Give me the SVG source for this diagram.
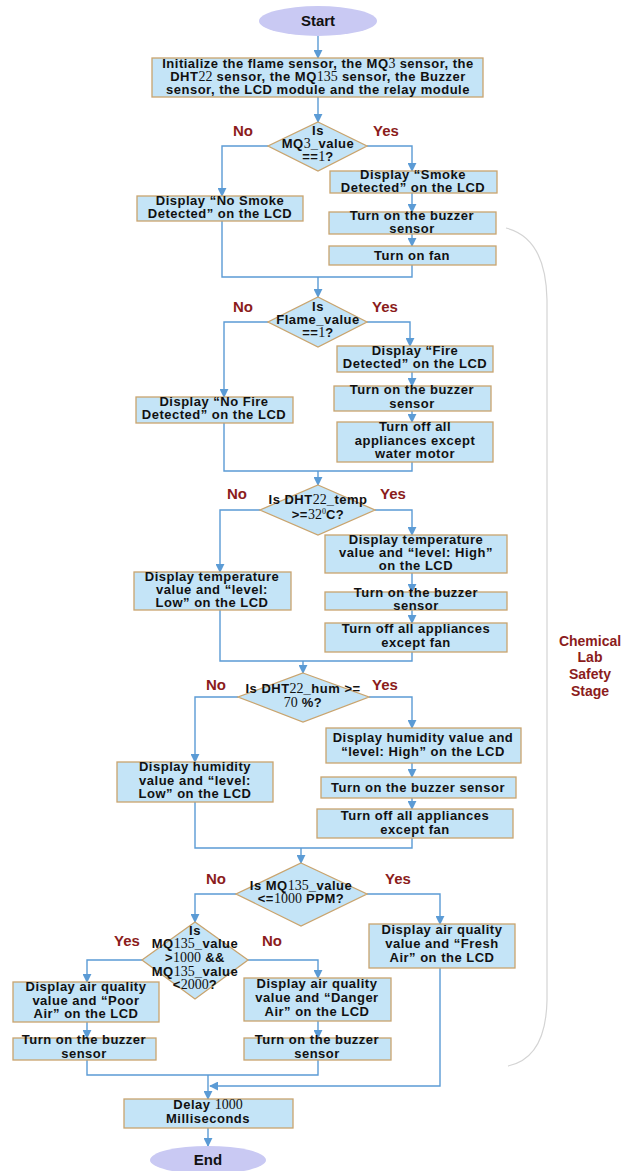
<svg xmlns="http://www.w3.org/2000/svg" width="622" height="1171" viewBox="0 0 622 1171">
  <style>
    .box { fill: #c4e4f7; stroke: #c9a46e; stroke-width: 1.3; }
    .dia { fill: #c4e4f7; stroke: #c9a46e; stroke-width: 1.3; }
    .term { fill: #c9c9f3; }
    .t { font-family: "Liberation Sans", Arial, sans-serif; font-weight: bold; font-size: 13px; fill: #111; text-anchor: middle; letter-spacing: 0.5px; }
    .tt { font-family: "Liberation Sans", Arial, sans-serif; font-weight: bold; font-size: 15px; fill: #111; text-anchor: middle; }
    .n { font-family: "Liberation Serif", "Times New Roman", serif; font-weight: normal; font-size: 14px; letter-spacing: 0; }
    .sup { font-family: "Liberation Serif", "Times New Roman", serif; font-weight: normal; font-size: 8px; letter-spacing: 0; }
    .lbl { font-family: "Liberation Sans", Arial, sans-serif; font-weight: bold; font-size: 15px; fill: #8b1c1c; text-anchor: middle; }
    .stage { font-family: "Liberation Sans", Arial, sans-serif; font-weight: bold; font-size: 14px; fill: #8b1c1c; text-anchor: middle; }
    .c { fill: none; stroke: #5b9bd5; stroke-width: 1.4; }
    .brace { fill: none; stroke: #d4d4d4; stroke-width: 1.2; }
  </style>
  <defs>
    <marker id="arr" viewBox="0 0 10 10" refX="9" refY="5" markerWidth="9" markerHeight="9" markerUnits="userSpaceOnUse" orient="auto">
      <path d="M0,0 L10,5 L0,10 z" fill="#5b9bd5"/>
    </marker>
  </defs>

  <rect width="622" height="1171" fill="#ffffff"/>

  <!-- connectors -->
  <g id="connectors">
    <path class="c" d="M318,36 V58" marker-end="url(#arr)"/>
    <path class="c" d="M318,97 V122" marker-end="url(#arr)"/>
    <!-- smoke decision -->
    <path class="c" d="M268,146 H222 V196" marker-end="url(#arr)"/>
    <path class="c" d="M367,146 H412 V171" marker-end="url(#arr)"/>
    <path class="c" d="M412,193 V212" marker-end="url(#arr)"/>
    <path class="c" d="M412,234 V246" marker-end="url(#arr)"/>
    <path class="c" d="M222,221 V277 H412 V265"/>
    <path class="c" d="M318,277 V297" marker-end="url(#arr)"/>
    <!-- flame decision -->
    <path class="c" d="M268,322 H224 V397" marker-end="url(#arr)"/>
    <path class="c" d="M367,322 H410 V346" marker-end="url(#arr)"/>
    <path class="c" d="M412,372 V386" marker-end="url(#arr)"/>
    <path class="c" d="M412,411 V422" marker-end="url(#arr)"/>
    <path class="c" d="M224,423 V471 H412 V462"/>
    <path class="c" d="M318,471 V485" marker-end="url(#arr)"/>
    <!-- temperature decision -->
    <path class="c" d="M260,510 H220 V572" marker-end="url(#arr)"/>
    <path class="c" d="M375,510 H412 V535" marker-end="url(#arr)"/>
    <path class="c" d="M412,573 V592" marker-end="url(#arr)"/>
    <path class="c" d="M412,610 V623" marker-end="url(#arr)"/>
    <path class="c" d="M220,610 V661 H412 V652"/>
    <path class="c" d="M303,661 V673" marker-end="url(#arr)"/>
    <!-- humidity decision -->
    <path class="c" d="M238,697 H195 V762" marker-end="url(#arr)"/>
    <path class="c" d="M369,697 H412 V728" marker-end="url(#arr)"/>
    <path class="c" d="M412,763 V777" marker-end="url(#arr)"/>
    <path class="c" d="M412,798 V809" marker-end="url(#arr)"/>
    <path class="c" d="M195,802 V848 H412 V838"/>
    <path class="c" d="M301,848 V863" marker-end="url(#arr)"/>
    <!-- air quality decisions -->
    <path class="c" d="M236,894 H195 V922" marker-end="url(#arr)"/>
    <path class="c" d="M367,894 H440 V924" marker-end="url(#arr)"/>
    <path class="c" d="M142,960 H87 V982" marker-end="url(#arr)"/>
    <path class="c" d="M248,960 H318 V978" marker-end="url(#arr)"/>
    <path class="c" d="M87,1022 V1038" marker-end="url(#arr)"/>
    <path class="c" d="M318,1021 V1038" marker-end="url(#arr)"/>
    <path class="c" d="M87,1060 V1075 H318 V1060"/>
    <path class="c" d="M208,1075 V1099" marker-end="url(#arr)"/>
    <path class="c" d="M440,968 V1086 H210" marker-end="url(#arr)"/>
    <path class="c" d="M208,1128 V1146" marker-end="url(#arr)"/>
  </g>

  <!-- stage brace -->
  <g id="stage">
    <path class="brace" d="M506,228 Q546,238 547,300 L547,1000 Q546,1058 508,1066"/>
    <text class="stage" x="590" y="646">Chemical</text>
    <text class="stage" x="590" y="662">Lab</text>
    <text class="stage" x="590" y="679">Safety</text>
    <text class="stage" x="590" y="696">Stage</text>
  </g>

  <!-- branch labels -->
  <g id="labels">
    <text class="lbl" x="243" y="136">No</text>
    <text class="lbl" x="386" y="136">Yes</text>
    <text class="lbl" x="243" y="312">No</text>
    <text class="lbl" x="385" y="312">Yes</text>
    <text class="lbl" x="237" y="499">No</text>
    <text class="lbl" x="393" y="499">Yes</text>
    <text class="lbl" x="216" y="690">No</text>
    <text class="lbl" x="385" y="690">Yes</text>
    <text class="lbl" x="216" y="884">No</text>
    <text class="lbl" x="398" y="884">Yes</text>
    <text class="lbl" x="127" y="946">Yes</text>
    <text class="lbl" x="272" y="946">No</text>
  </g>

  <g id="start">
    <ellipse class="term" cx="318" cy="21" rx="59" ry="15"/>
    <text class="tt" x="318" y="26">Start</text>
  </g>

  <g id="init">
    <rect class="box" x="152" y="58" width="331" height="39"/>
    <text class="t" x="318" y="68">Initialize the flame sensor, the MQ<tspan class="n">3</tspan> sensor, the</text>
    <text class="t" x="318" y="81">DHT<tspan class="n">22</tspan> sensor, the MQ<tspan class="n">135</tspan> sensor, the Buzzer</text>
    <text class="t" x="318" y="94">sensor, the LCD module and the relay module</text>
  </g>

  <!-- smoke -->
  <g id="check-smoke">
    <polygon class="dia" points="318,122 367,146 318,171 268,146"/>
    <text class="t" x="318" y="135">Is</text>
    <text class="t" x="318" y="148">MQ<tspan class="n">3</tspan>_value</text>
    <text class="t" x="318" y="161">==<tspan class="n">1</tspan>?</text>
  </g>
  <g id="no-smoke">
    <rect class="box" x="137" y="196" width="166" height="25"/>
    <text class="t" x="220" y="205">Display “No Smoke</text>
    <text class="t" x="220" y="218">Detected” on the LCD</text>
  </g>
  <g id="smoke">
    <rect class="box" x="330" y="171" width="167" height="22"/>
    <text class="t" x="413" y="179">Display “Smoke</text>
    <text class="t" x="413" y="192">Detected” on the LCD</text>
  </g>
  <g id="buzzer-smoke">
    <rect class="box" x="329" y="212" width="167" height="22"/>
    <text class="t" x="412" y="220">Turn on the buzzer</text>
    <text class="t" x="412" y="233">sensor</text>
  </g>
  <g id="fan">
    <rect class="box" x="329" y="246" width="167" height="19"/>
    <text class="t" x="412" y="260">Turn on fan</text>
  </g>

  <!-- flame -->
  <g id="check-flame">
    <polygon class="dia" points="318,297 367,322 318,347 268,322"/>
    <text class="t" x="318" y="311">Is</text>
    <text class="t" x="318" y="324">Flame_value</text>
    <text class="t" x="318" y="337">==<tspan class="n">1</tspan>?</text>
  </g>
  <g id="no-fire">
    <rect class="box" x="136" y="397" width="157" height="26"/>
    <text class="t" x="214" y="406">Display “No Fire</text>
    <text class="t" x="214" y="419">Detected” on the LCD</text>
  </g>
  <g id="fire">
    <rect class="box" x="337" y="346" width="156" height="26"/>
    <text class="t" x="415" y="355">Display “Fire</text>
    <text class="t" x="415" y="368">Detected” on the LCD</text>
  </g>
  <g id="buzzer-fire">
    <rect class="box" x="334" y="386" width="157" height="25"/>
    <text class="t" x="412" y="394">Turn on the buzzer</text>
    <text class="t" x="412" y="408">sensor</text>
  </g>
  <g id="appliances-off-fire">
    <rect class="box" x="337" y="422" width="156" height="40"/>
    <text class="t" x="415" y="431">Turn off all</text>
    <text class="t" x="415" y="445">appliances except</text>
    <text class="t" x="415" y="458">water motor</text>
  </g>

  <!-- temperature -->
  <g id="check-temp">
    <polygon class="dia" points="318,485 375,510 318,535 260,510"/>
    <text class="t" x="318" y="504">Is DHT<tspan class="n">22</tspan>_temp</text>
    <text class="t" x="318" y="519">&gt;=<tspan class="n">32</tspan><tspan class="sup" dy="-5">0</tspan><tspan dy="5">C?</tspan></text>
  </g>
  <g id="temp-low">
    <rect class="box" x="134" y="572" width="157" height="38"/>
    <text class="t" x="212" y="581">Display temperature</text>
    <text class="t" x="212" y="594">value and “level:</text>
    <text class="t" x="212" y="607">Low” on the LCD</text>
  </g>
  <g id="temp-high">
    <rect class="box" x="325" y="535" width="182" height="38"/>
    <text class="t" x="416" y="544">Display temperature</text>
    <text class="t" x="416" y="557">value and “level: High”</text>
    <text class="t" x="416" y="570">on the LCD</text>
  </g>
  <g id="buzzer-temp">
    <rect class="box" x="325" y="592" width="182" height="18"/>
    <text class="t" x="416" y="597">Turn on the buzzer</text>
    <text class="t" x="416" y="610">sensor</text>
  </g>
  <g id="appliances-off-temp">
    <rect class="box" x="325" y="623" width="182" height="29"/>
    <text class="t" x="416" y="633">Turn off all appliances</text>
    <text class="t" x="416" y="647">except fan</text>
  </g>

  <!-- humidity -->
  <g id="check-hum">
    <polygon class="dia" points="303,673 369,697 303,722 238,697"/>
    <text class="t" x="303" y="693">Is DHT<tspan class="n">22</tspan>_hum &gt;=</text>
    <text class="t" x="303" y="707"><tspan class="n">70</tspan> %?</text>
  </g>
  <g id="hum-low">
    <rect class="box" x="117" y="762" width="156" height="40"/>
    <text class="t" x="195" y="771">Display humidity</text>
    <text class="t" x="195" y="785">value and “level:</text>
    <text class="t" x="195" y="798">Low” on the LCD</text>
  </g>
  <g id="hum-high">
    <rect class="box" x="326" y="728" width="195" height="35"/>
    <text class="t" x="423" y="742">Display humidity value and</text>
    <text class="t" x="423" y="756">“level: High” on the LCD</text>
  </g>
  <g id="buzzer-hum">
    <rect class="box" x="321" y="777" width="195" height="21"/>
    <text class="t" x="418" y="792">Turn on the buzzer sensor</text>
  </g>
  <g id="appliances-off-hum">
    <rect class="box" x="317" y="809" width="196" height="29"/>
    <text class="t" x="415" y="820">Turn off all appliances</text>
    <text class="t" x="415" y="834">except fan</text>
  </g>

  <!-- air quality -->
  <g id="check-air">
    <polygon class="dia" points="301,863 367,894 301,926 236,894"/>
    <text class="t" x="301" y="890">Is MQ<tspan class="n">135</tspan>_value</text>
    <text class="t" x="301" y="903">&lt;=<tspan class="n">1000</tspan> PPM?</text>
  </g>
  <g id="check-air-range">
    <polygon class="dia" points="195,922 248,960 195,999 142,960"/>
    <text class="t" x="195" y="935">Is</text>
    <text class="t" x="195" y="948">MQ<tspan class="n">135</tspan>_value</text>
    <text class="t" x="195" y="962">&gt;<tspan class="n">1000</tspan> &amp;&amp;</text>
    <text class="t" x="195" y="976">MQ<tspan class="n">135</tspan>_value</text>
    <text class="t" x="195" y="989">&lt;<tspan class="n">2000</tspan>?</text>
  </g>
  <g id="fresh-air">
    <rect class="box" x="369" y="924" width="146" height="44"/>
    <text class="t" x="442" y="934">Display air quality</text>
    <text class="t" x="442" y="948">value and “Fresh</text>
    <text class="t" x="442" y="962">Air” on the LCD</text>
  </g>
  <g id="poor-air">
    <rect class="box" x="13" y="982" width="146" height="40"/>
    <text class="t" x="86" y="991">Display air quality</text>
    <text class="t" x="86" y="1005">value and “Poor</text>
    <text class="t" x="86" y="1018">Air” on the LCD</text>
  </g>
  <g id="danger-air">
    <rect class="box" x="244" y="978" width="147" height="43"/>
    <text class="t" x="317" y="988">Display air quality</text>
    <text class="t" x="317" y="1002">value and “Danger</text>
    <text class="t" x="317" y="1016">Air” on the LCD</text>
  </g>
  <g id="buzzer-poor">
    <rect class="box" x="13" y="1038" width="143" height="22"/>
    <text class="t" x="84" y="1044">Turn on the buzzer</text>
    <text class="t" x="84" y="1058">sensor</text>
  </g>
  <g id="buzzer-danger">
    <rect class="box" x="244" y="1038" width="147" height="22"/>
    <text class="t" x="317" y="1044">Turn on the buzzer</text>
    <text class="t" x="317" y="1058">sensor</text>
  </g>

  <g id="delay">
    <rect class="box" x="124" y="1099" width="169" height="29"/>
    <text class="t" x="208" y="1109">Delay <tspan class="n">1000</tspan></text>
    <text class="t" x="208" y="1123">Milliseconds</text>
  </g>

  <g id="end">
    <ellipse class="term" cx="208" cy="1160" rx="58" ry="14"/>
    <text class="tt" x="208" y="1165">End</text>
  </g>
</svg>
